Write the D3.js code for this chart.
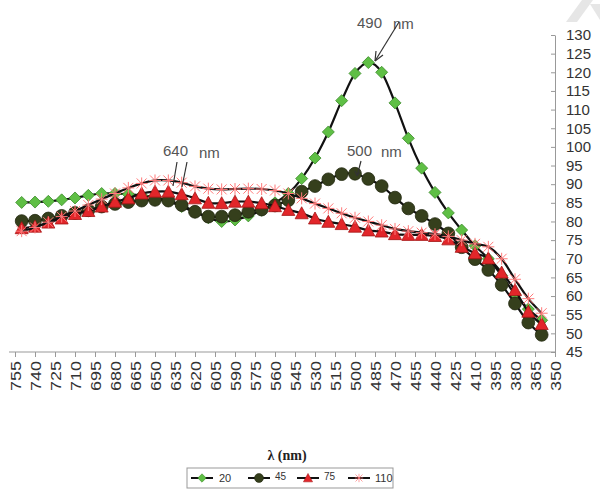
<!DOCTYPE html>
<html>
<head>
<meta charset="utf-8">
<script src="https://cdn.jsdelivr.net/npm/d3@7"></script>
<style>
  body { margin: 0; background: #fff; }
  svg { display: block; }
</style>
</head>
<body>
<script>
// wavelengths of the measured points (nm)
const wavelengths = [750, 740, 730, 720, 710, 700, 690, 680, 670, 660, 650, 640, 630, 620, 610, 600, 590, 580, 570, 560,
  550, 540, 530, 520, 510, 500, 490, 480, 470, 460, 450, 440, 430, 420, 410, 400, 390, 380, 370, 360];

const s20 = [85.1, 85.2, 85.4, 85.8, 86.3, 87.0, 87.5, 87.5, 87.3, 87.0, 86.5, 85.5, 84.0, 82.5, 81.0, 80.0, 80.4, 81.5, 83.0, 85.0,
  87.5, 91.5, 97.0, 104.0, 112.4, 119.7, 122.6, 120.0, 111.8, 102.3, 94.3, 87.8, 82.3, 77.7, 73.5, 70.0, 65.5, 60.5, 56.5, 53.5];
const s45 = [80.1, 80.2, 80.8, 81.5, 82.3, 83.0, 84.0, 84.7, 85.2, 85.6, 85.8, 85.6, 84.4, 82.6, 81.3, 81.3, 81.7, 82.6, 83.2, 84.3,
  85.7, 88.0, 89.5, 91.3, 92.7, 92.8, 91.4, 89.5, 86.4, 83.5, 81.5, 79.3, 76.8, 73.1, 69.9, 67.0, 63.0, 58.0, 52.9, 49.6];
const s75 = [78.2, 78.6, 79.7, 80.8, 82.0, 82.8, 84.0, 85.3, 86.2, 87.5, 88.0, 88.0, 87.3, 86.2, 85.0, 84.9, 85.3, 85.3, 84.9, 84.1,
  83.1, 82.2, 80.8, 79.9, 79.3, 78.6, 77.6, 77.3, 76.6, 76.4, 76.4, 76.1, 75.2, 73.2, 71.5, 70.1, 66.3, 61.6, 55.8, 52.5];
const s110 = [77.4, 78.4, 79.8, 81.3, 82.8, 84.4, 86.0, 87.5, 89.0, 90.2, 91.0, 91.0, 90.4, 89.4, 88.8, 88.6, 88.7, 88.8, 88.7, 88.3,
  87.5, 86.2, 84.8, 83.5, 82.2, 81.0, 80.0, 79.0, 78.0, 77.4, 77.0, 76.6, 76.0, 75.0, 74.0, 73.2, 70.0, 64.5, 59.3, 55.4];

const seriesNames = ["20", "45", "75", "110"];
const xTicks = [755, 740, 725, 710, 695, 680, 665, 650, 635, 620, 605, 590, 575, 560, 545, 530, 515, 500, 485, 470,
  455, 440, 425, 410, 395, 380, 365, 350];
const yTicks = [45, 50, 55, 60, 65, 70, 75, 80, 85, 90, 95, 100, 105, 110, 115, 120, 125, 130];

const W = 600, H = 495;
const svg = d3.select("body").append("svg").attr("width", W).attr("height", H);

// faint watermark in the top-right corner
svg.append("path")
  .attr("d", "M566,22 L582,0 L593,0 L577,22 Z M590,4 L600,4 L600,20 Z")
  .attr("fill", "#e6e6e6");

const x = d3.scaleLinear().domain([755, 350]).range([15, 555]);
const y = d3.scaleLinear().domain([45, 130]).range([352, 35]);

// axes
const xAxis = svg.append("g")
  .attr("transform", `translate(0,${y(45)})`)
  .call(d3.axisBottom(x).tickValues(xTicks).tickSize(5).tickSizeOuter(0).tickFormat(d3.format("d")));
xAxis.select(".domain").attr("stroke", "#999").attr("d", `M9,0H${x(350)}`);
xAxis.selectAll(".tick line").attr("stroke", "#999");
xAxis.selectAll(".tick text")
  .attr("transform", "translate(0,9) rotate(-90) scale(1.2,1)")
  .attr("x", 0).attr("y", 0).attr("dy", "0.35em")
  .attr("text-anchor", "end")
  .attr("fill", "#333")
  .style("font", "15px 'Liberation Sans', Arial, sans-serif");

const yAxis = svg.append("g")
  .attr("transform", `translate(${x(350)},0)`)
  .call(d3.axisRight(y).tickValues(yTicks).tickSize(0).tickPadding(11).tickSizeOuter(0));
yAxis.select(".domain").attr("stroke", "#999");
yAxis.selectAll(".tick").append("line").attr("x1", -4).attr("x2", 0).attr("stroke", "#999");
yAxis.selectAll(".tick text")
  .attr("fill", "#333")
  .style("font", "15px 'Liberation Sans', Arial, sans-serif");

// series
const line = d3.line()
  .x((d, i) => x(wavelengths[i]))
  .y(d => y(d))
  .curve(d3.curveCatmullRom.alpha(0));

const diamond = "M0,-6L6,0L0,6L-6,0Z";
const triangle = "M0,-6.5L6.5,5.5L-6.5,5.5Z";
const star = "M-5,-5L5,5M-5,5L5,-5M0,-6V6M-6,0H6";

function drawMarker(g, type) {
  if (type == 0) g.append("path").attr("d", diamond).attr("fill", "#5fbf45").attr("stroke", "#3a8a28").attr("stroke-width", 0.8);
  if (type == 1) g.append("circle").attr("r", 6.4).attr("fill", "#353f1c").attr("stroke", "#22280f").attr("stroke-width", 0.8);
  if (type == 2) g.append("path").attr("d", triangle).attr("fill", "#e2262a").attr("stroke", "#a51515").attr("stroke-width", 0.8);
  if (type == 3) g.append("path").attr("d", star).attr("fill", "none").attr("stroke", "#ff7a7a").attr("stroke-width", 1);
}

const allSeries = [s20, s45, s75, s110];
allSeries.forEach((vals, k) => {
  const g = svg.append("g");
  g.append("path")
    .attr("d", line(vals))
    .attr("fill", "none")
    .attr("stroke", "#111")
    .attr("stroke-width", 2.2);
  g.selectAll("g.m")
    .data(vals)
    .enter()
    .append("g")
    .attr("class", "m")
    .attr("transform", (d, i) => `translate(${x(wavelengths[i])},${y(d)})`)
    .each(function () { drawMarker(d3.select(this), k); });
});

// annotations
const ann = svg.append("g").attr("fill", "#555").style("font", "15px 'Liberation Sans', Arial, sans-serif");
ann.append("text").attr("x", 357).attr("y", 28).text("490");
ann.append("text").attr("x", 393).attr("y", 29).text("nm");
ann.append("text").attr("x", 163).attr("y", 156).text("640");
ann.append("text").attr("x", 199).attr("y", 158).text("nm");
ann.append("text").attr("x", 347).attr("y", 156).text("500");
ann.append("text").attr("x", 381).attr("y", 157).text("nm");

const pen = svg.append("g").attr("stroke", "#333").attr("stroke-width", 1.2).attr("fill", "none");
pen.append("path").attr("d", "M399,22L375,61");
pen.append("path").attr("d", "M375,61L376,51M375,61L383,55");
pen.append("path").attr("d", "M361,161L357,176M357,176L355,171M357,176L360,172");
pen.append("path").attr("d", "M177,162L173,186");
pen.append("path").attr("d", "M187,162L182,187");

// axis title
svg.append("text")
  .attr("x", 287).attr("y", 460)
  .attr("text-anchor", "middle")
  .style("font", "bold 14px 'Liberation Serif', 'Times New Roman', serif")
  .attr("fill", "#222")
  .text("λ (nm)");

// legend
const legend = svg.append("g");
legend.append("rect")
  .attr("x", 187).attr("y", 468).attr("width", 206).attr("height", 20)
  .attr("fill", "#fff").attr("stroke", "#999");
const legX = [191, 248, 297, 348];
seriesNames.forEach((name, k) => {
  const item = legend.append("g").attr("transform", `translate(${legX[k]},478)`);
  item.append("line").attr("x1", 0).attr("x2", 22).attr("stroke", "#111").attr("stroke-width", 2);
  const m = item.append("g").attr("transform", "translate(11,0) scale(0.7)");
  drawMarker(m, k);
  item.append("text")
    .attr("x", k == 0 ? 28 : 27).attr("y", k == 1 || k == 2 ? 2 : 4)
    .style("font", (k == 1 || k == 2 ? "10px" : "11px") + " 'Liberation Sans', Arial, sans-serif")
    .attr("fill", "#333")
    .text(name);
});
</script>
</body>
</html>
